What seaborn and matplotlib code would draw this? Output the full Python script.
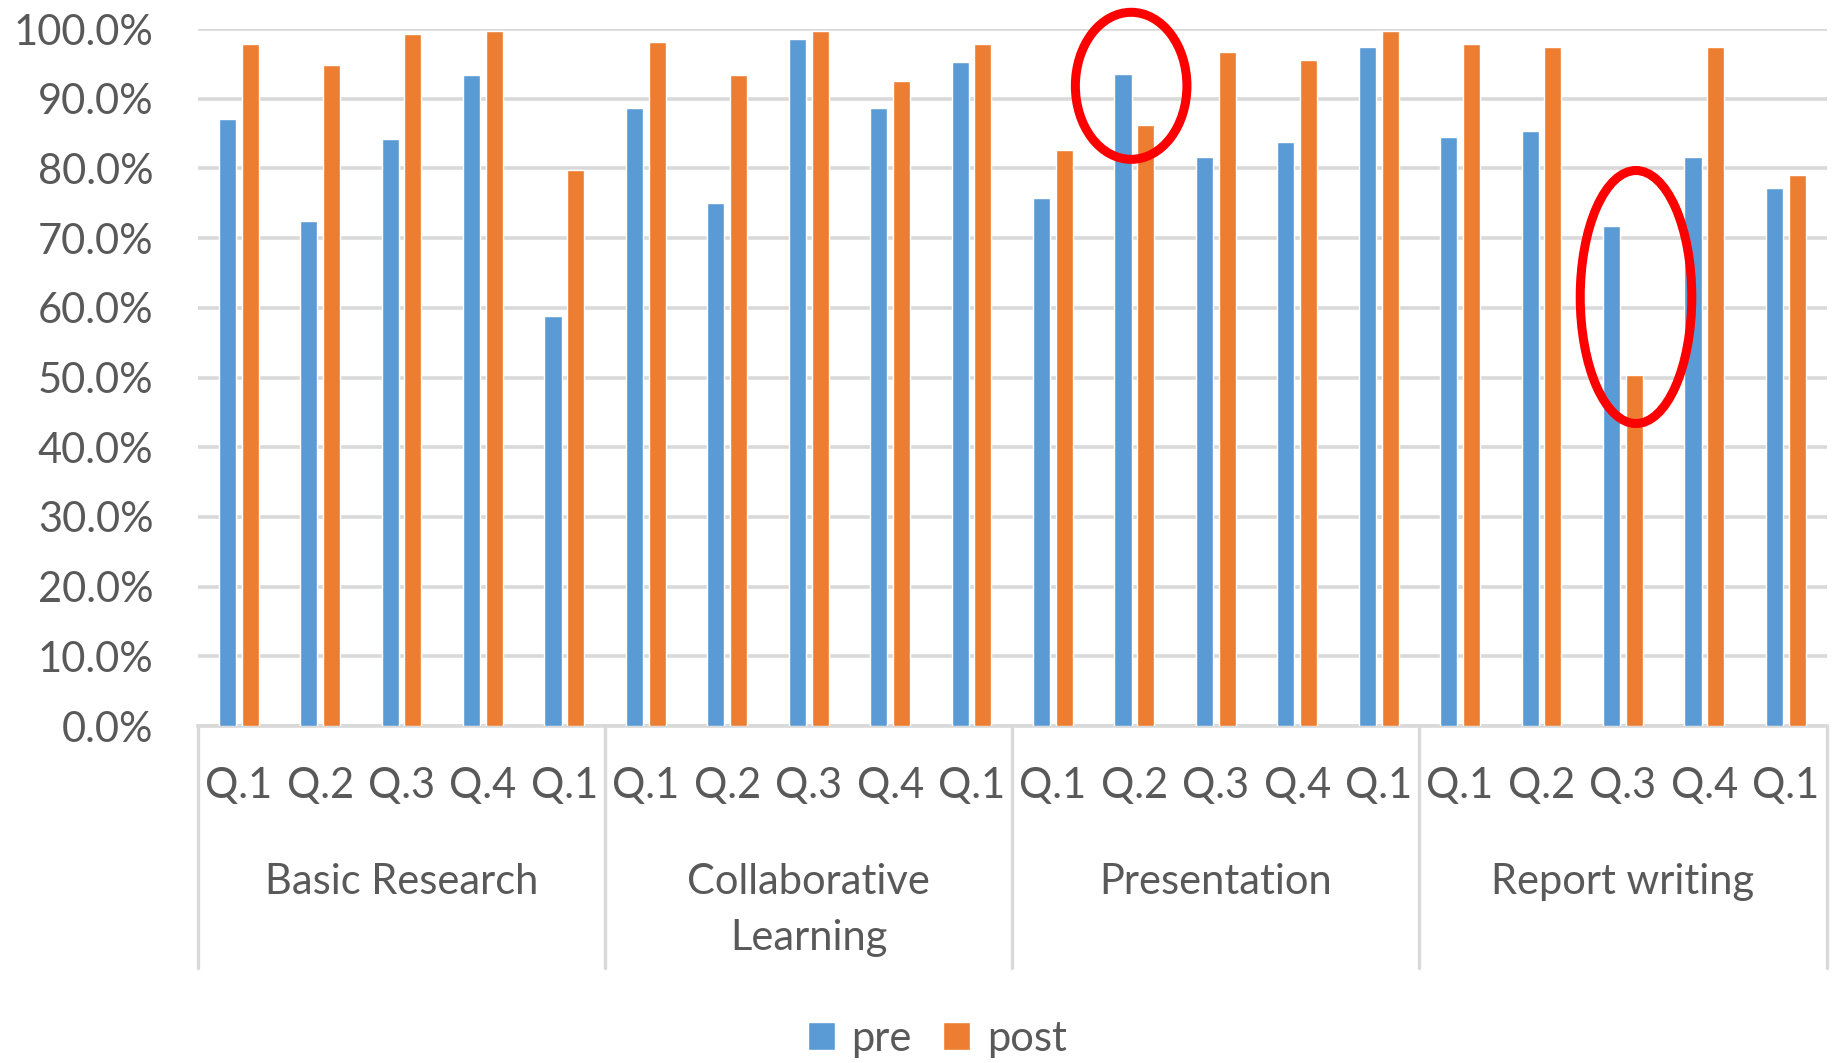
import matplotlib
matplotlib.use('Agg')
import matplotlib.pyplot as plt
import seaborn as sns
import pandas as pd
from matplotlib.patches import Ellipse
from matplotlib.ticker import PercentFormatter, MultipleLocator


# values, in %
groups = ["Basic Research", "Collaborative\nLearning", "Presentation", "Report writing"]
questions = ["Q.1", "Q.2", "Q.3", "Q.4", "Q.1"]

pre = [87.1, 72.4, 84.2, 93.4, 58.8,
       88.6, 75.0, 98.5, 88.6, 95.2,
       75.7, 93.6, 81.6, 83.8, 97.4,
       84.5, 85.3, 71.7, 81.6, 77.2]
post = [97.8, 94.9, 99.3, 99.7, 79.8,
        98.1, 93.4, 99.7, 92.6, 97.8,
        82.7, 86.3, 96.7, 95.5, 99.7,
        97.8, 97.4, 50.4, 97.4, 79.0]

# red circles drawn on the original (group idx, question idx)
highlights = [(2, 1), (3, 2)]

BLUE = "#5B9BD5"
ORANGE = "#ED7D31"
GRID = "#D9D9D9"
TEXT = "#595959"
FS = 30


def build_frame():
    rows = []
    for i in range(len(pre)):
        key = f"{i:02d}"
        rows.append({"pos": key, "series": "pre", "value": pre[i]})
        rows.append({"pos": key, "series": "post", "value": post[i]})
    return pd.DataFrame(rows)


def main():
    sns.set_style("white")
    plt.rcParams["font.family"] = ["Lato", "DejaVu Sans"]
    df = build_frame()
    n = len(questions)

    fig = plt.figure(figsize=(18.45, 10.63), dpi=100)
    ax = fig.add_axes([0.1073, 0.317, 0.8827, 0.6557])

    sns.barplot(data=df, x="pos", y="value", hue="series",
                palette={"pre": BLUE, "post": ORANGE}, saturation=1,
                width=0.56, gap=0.25, ax=ax, legend=True, zorder=3)

    ax.set_ylim(0, 100)
    ax.set_xlim(-0.5, len(pre) - 0.5)
    ax.yaxis.set_major_locator(MultipleLocator(10))
    ax.yaxis.set_major_formatter(PercentFormatter(xmax=100, decimals=1))
    ax.grid(axis="y", color=GRID, linewidth=2.6, zorder=0)
    ax.set_axisbelow(True)
    for s in ["top", "right", "left"]:
        ax.spines[s].set_visible(False)
    ax.spines["bottom"].set_color(GRID)
    ax.spines["bottom"].set_linewidth(2.6)
    ax.tick_params(axis="y", length=0, pad=32, labelsize=FS, labelcolor=TEXT)
    ax.tick_params(axis="x", length=0, pad=0)
    ax.set_xticks(range(len(pre)))
    ax.set_xticklabels([])
    ax.set_xlabel("")
    ax.set_ylabel("")

    # two level category axis like excel
    trans = ax.get_xaxis_transform()
    for i in range(len(pre)):
        ax.text(i, -0.086, questions[i % n], transform=trans, ha="center",
                va="center", fontsize=FS, color=TEXT)
    for g, name in enumerate(groups):
        ax.text(g * n + (n - 1) / 2, -0.196, name, transform=trans, ha="center",
                va="top", fontsize=FS, color=TEXT, linespacing=1.6)
    for g in range(len(groups) + 1):
        x = g * n - 0.5
        ax.plot([x, x], [0, -0.347], transform=trans, color=GRID,
                linewidth=2.4, clip_on=False)

    # red annotation ellipses
    for g, q in highlights:
        i = g * n + q
        cy = (pre[i] + post[i]) / 2
        if q == 1:
            e = Ellipse((i - 0.04, cy + 1.9), 1.37, 21.1)
        else:
            e = Ellipse((i + 0.16, cy + 0.5), 1.37, 36.3)
        e.set_fill(False)
        e.set_edgecolor("#FF0000")
        e.set_linewidth(6.5)
        e.set_zorder(5)
        e.set_clip_on(False)
        ax.add_patch(e)

    handles, labels = ax.get_legend_handles_labels()
    ax.get_legend().remove()
    fig.legend(handles, labels, loc="center", bbox_to_anchor=(0.508, 0.0226),
               ncol=2, frameon=False, fontsize=FS, labelcolor=TEXT,
               handlelength=0.65, handleheight=0.65, handletextpad=0.4,
               columnspacing=0.75)

    fig.savefig("out.png", dpi=100)
    plt.close(fig)


if __name__ == "__main__":
    main()
